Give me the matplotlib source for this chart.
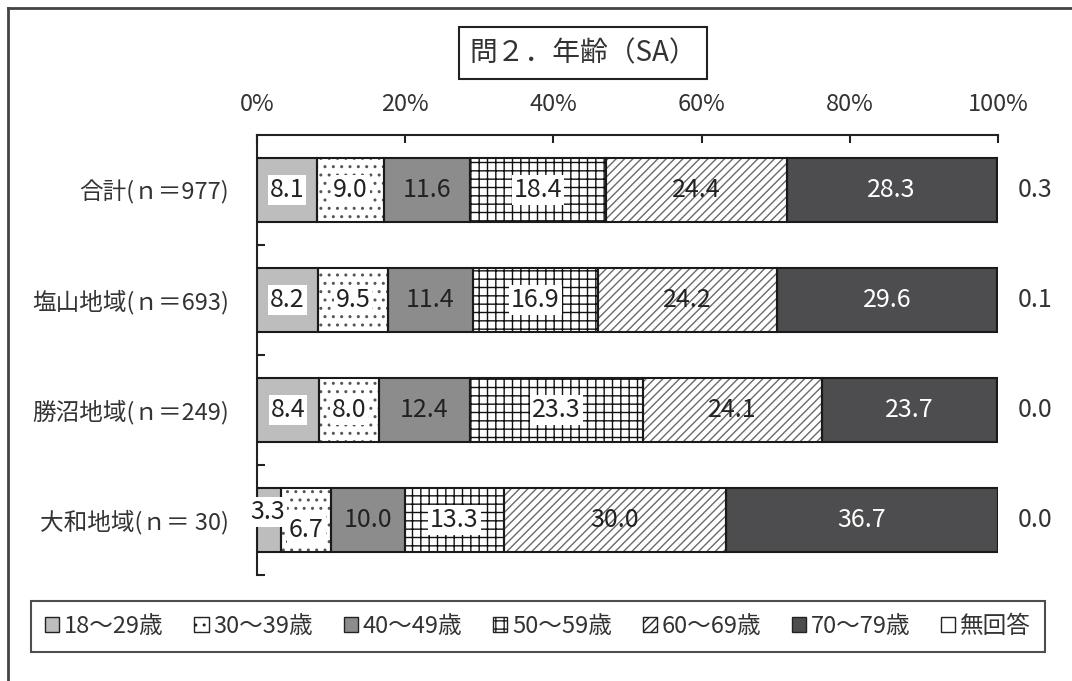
import matplotlib
matplotlib.use("Agg")
import matplotlib.pyplot as plt
from matplotlib.lines import Line2D
from matplotlib.patches import Patch
import numpy as np

plt.rcParams['font.family'] = ['Noto Sans CJK JP', 'DejaVu Sans']
plt.rcParams['hatch.linewidth'] = 1.0

title = "問２．年齢（SA）"
categories = ["合計(ｎ＝977)", "塩山地域(ｎ＝693)", "勝沼地域(ｎ＝249)", "大和地域(ｎ＝ 30)"]
series_names = ["18～29歳", "30～39歳", "40～49歳", "50～59歳", "60～69歳", "70～79歳", "無回答"]
values = [
    [8.1, 8.2, 8.4, 3.3],      # 18～29歳
    [9.0, 9.5, 8.0, 6.7],      # 30～39歳
    [11.6, 11.4, 12.4, 10.0],  # 40～49歳
    [18.4, 16.9, 23.3, 13.3],  # 50～59歳
    [24.4, 24.2, 24.1, 30.0],  # 60～69歳
    [28.3, 29.6, 23.7, 36.7],  # 70～79歳
    [0.3, 0.1, 0.0, 0.0],      # 無回答
]
x_ticks = [0, 20, 40, 60, 80, 100]
x_ticklabels = ["0%", "20%", "40%", "60%", "80%", "100%"]

# per-series style: face, hatch, hatch colour, label text colour, white label box
styles = [
    dict(face="#bdbdbd", hatch=None, hc="black", tc="#222222", box=True),
    dict(face="white", hatch="..", hc="#555555", tc="#222222", box=True),
    dict(face="#8c8c8c", hatch=None, hc="black", tc="#222222", box=False),
    dict(face="white", hatch="++", hc="#111111", tc="#222222", box=True),
    dict(face="white", hatch="////", hc="#6a6a6a", tc="#222222", box=False),
    dict(face="#4d4d4f", hatch=None, hc="black", tc="white", box=False),
    dict(face="white", hatch=None, hc="black", tc="#222222", box=False),
]

fig = plt.figure(figsize=(10.72, 6.81), dpi=100)
ax = fig.add_axes([257 / 1072, 1 - 575 / 681, 741 / 1072, 440 / 681])

y = np.arange(len(categories))
bar_h = 0.58
left = np.zeros(len(categories))
for k, (vals, st) in enumerate(zip(values, styles)):
    vals = np.array(vals)
    ax.barh(y, vals, left=left, height=bar_h, color=st["face"],
            hatch=st["hatch"], edgecolor=st["hc"], linewidth=0, zorder=2)
    ax.barh(y, vals, left=left, height=bar_h, facecolor="none",
            edgecolor="#1a1a1a", linewidth=1.5, zorder=3)
    for i, v in enumerate(vals):
        if k == len(values) - 1:
            ax.text(105, i, f"{v:.1f}", ha="center", va="center",
                    fontsize=18, color="#333333", clip_on=False)
            continue
        cx = left[i] + v / 2
        cy = i
        if k == 0 and v < 5:
            cx, cy = left[i] + 1.4, i - 0.07
        if k == 1 and v < 7:
            cy = i + 0.09
        bbox = dict(facecolor="white", edgecolor="none", pad=1.5) if st["box"] else None
        ax.text(cx, cy, f"{v:.1f}", ha="center", va="center", fontsize=18,
                color=st["tc"], bbox=bbox, zorder=5)
    left = left + vals

ax.set_xlim(0, 100)
ax.set_ylim(len(categories) - 0.5, -0.5)
ax.xaxis.tick_top()
ax.set_xticks(x_ticks)
ax.set_xticklabels(x_ticklabels, fontsize=17, color="#333333")
ax.tick_params(axis="x", direction="in", length=6, width=1.5, pad=14, colors="#222222",
               labelcolor="#333333")
ax.set_yticks(y)
ax.set_yticklabels(categories, fontsize=17, color="#333333")
ax.tick_params(axis="y", which="major", length=0, pad=20)
ax.set_yticks(np.arange(len(categories)) + 0.5, minor=True)
ax.tick_params(axis="y", which="minor", direction="in", length=6, width=1.5, colors="#222222")
for s in ["right", "bottom"]:
    ax.spines[s].set_visible(False)
for s in ["top", "left"]:
    ax.spines[s].set_linewidth(1.5)
    ax.spines[s].set_color("#222222")

# title box
fig.text(583 / 1072, 1 - 53 / 681, title, ha="center", va="center", fontsize=20,
         color="#333333",
         bbox=dict(boxstyle="square,pad=0.38", facecolor="white", edgecolor="#222222",
                   linewidth=1.5))

# legend
handles = [Patch(facecolor=st["face"], hatch=st["hatch"], edgecolor="#222222", linewidth=1.0)
           for st in styles]
leg = fig.legend(handles, series_names, loc="lower left", ncol=7, mode="expand",
                 bbox_to_anchor=(31 / 1072, 1 - 652 / 681, 1014 / 1072, 57 / 681),
                 fontsize=17, handlelength=0.6, handleheight=0.6, handletextpad=0.2,
                 columnspacing=0.6, borderpad=0.6, frameon=True, fancybox=False,
                 borderaxespad=0)
leg.get_frame().set_edgecolor("#222222")
leg.get_frame().set_linewidth(1.5)
for t in leg.get_texts():
    t.set_color("#333333")

# outer frame on the top and left
fig.add_artist(Line2D([8 / 1072, 8 / 1072], [0, 1 - 8 / 681], transform=fig.transFigure,
                      color="#444444", linewidth=2))
fig.add_artist(Line2D([8 / 1072, 1], [1 - 8 / 681, 1 - 8 / 681], transform=fig.transFigure,
                      color="#444444", linewidth=2))

fig.savefig("out.png", dpi=100, facecolor="white")
